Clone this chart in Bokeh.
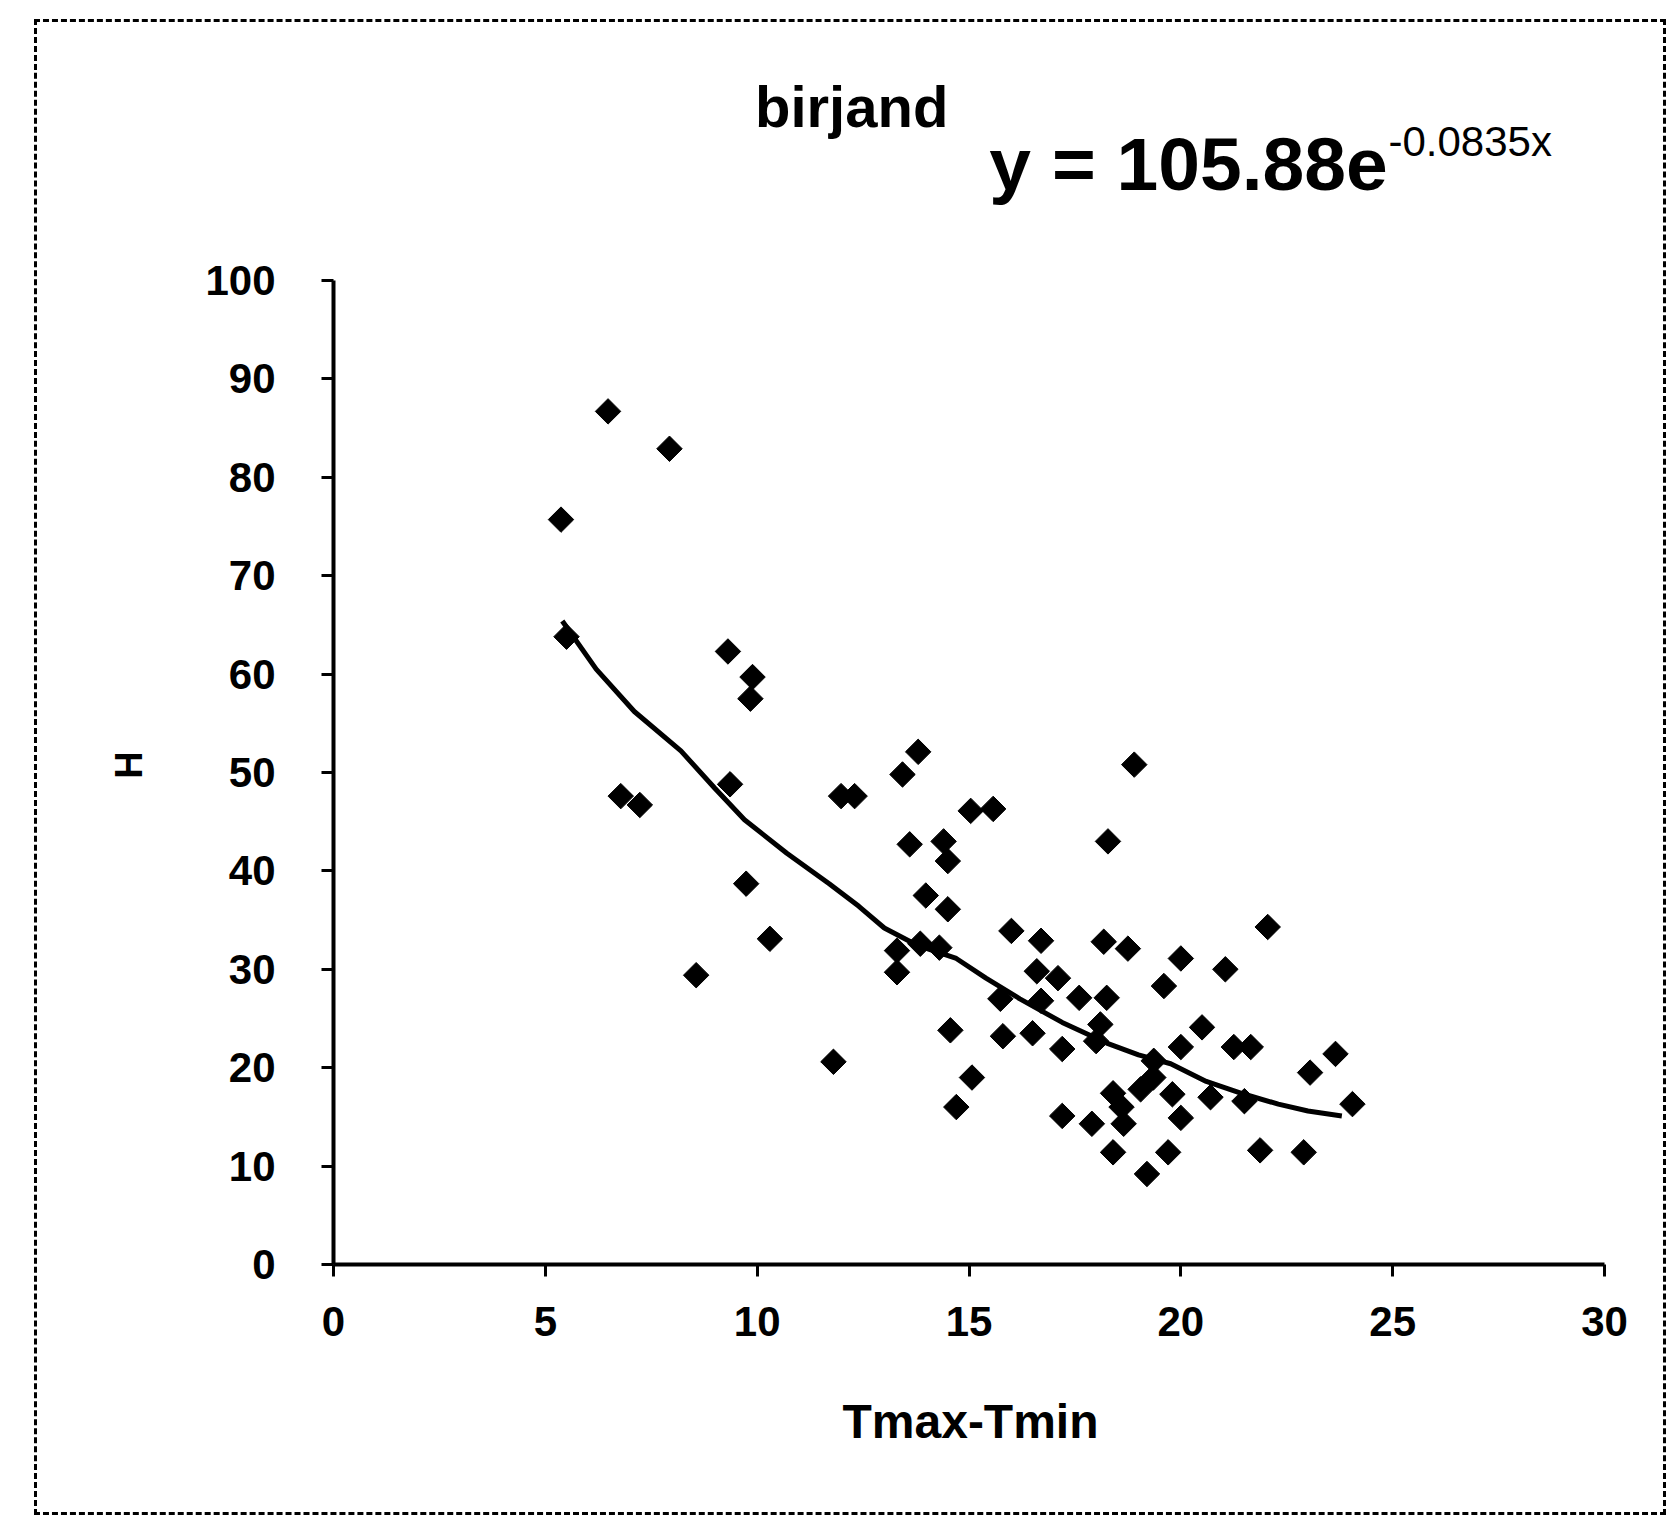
from bokeh.plotting import figure
from bokeh.models import Range1d, FixedTicker, Label
from bokeh.embed import file_html
from bokeh.resources import INLINE
import math

# ---- data ----
x_vals = [5.37, 6.48, 7.93, 5.5, 6.78, 7.23, 8.56, 9.31, 9.89, 9.84,
          9.36, 9.74, 10.3, 11.8, 11.98, 12.3, 13.43, 13.8, 13.3, 13.6,
          13.98, 14.4, 14.5, 14.5, 14.56, 14.7, 15.07, 15.04, 15.57, 13.3,
          14.3, 13.85, 15.74, 15.8, 16.0, 16.7, 16.5, 16.6, 17.1, 16.7,
          17.2, 17.2, 17.9, 17.6, 18.25, 18.0, 18.28, 18.18, 18.75, 18.9,
          18.4, 18.6, 18.4, 19.2, 19.7, 19.6, 20.0, 19.35, 19.36, 20.0,
          19.8, 20.0, 20.5, 20.7, 21.05, 21.25, 21.65, 21.5, 22.05, 21.87,
          22.9, 23.05, 23.65, 24.05, 18.65, 19.05, 18.1]
h_vals = [75.7, 86.7, 82.9, 63.8, 47.6, 46.7, 29.4, 62.3, 59.7, 57.5,
          48.8, 38.7, 33.1, 20.6, 47.6, 47.6, 49.8, 52.1, 29.7, 42.7,
          37.5, 43.0, 41.0, 36.1, 23.8, 16.0, 19.0, 46.1, 46.3, 31.9,
          32.2, 32.6, 27.0, 23.2, 33.9, 32.9, 23.5, 29.8, 29.1, 26.8,
          21.9, 15.1, 14.3, 27.1, 27.1, 22.7, 43.0, 32.8, 32.1, 50.8,
          17.4, 16.0, 11.4, 9.2, 11.4, 28.3, 31.1, 19.0, 20.7, 22.1,
          17.3, 14.9, 24.1, 17.0, 30.0, 22.1, 22.1, 16.6, 34.3, 11.6,
          11.4, 19.5, 21.4, 16.3, 14.3, 17.8, 24.4]

# trend line
trend_x = [5.4, 6.2, 7.1, 8.2, 9.0, 9.7, 10.7, 11.7, 12.4, 13.0, 13.8, 14.7,
           15.4, 16.2, 17.2, 18.25, 19.0, 19.76, 20.6, 21.5, 22.3, 23.0, 23.8]
trend_y = [65.4, 60.5, 56.2, 52.2, 48.4, 45.2, 41.8, 38.7, 36.4, 34.2, 32.4, 31.1,
           29.1, 27.0, 24.6, 22.5, 21.3, 20.4, 18.6, 17.3, 16.3, 15.6, 15.1]

x_ticks = [0, 5, 10, 15, 20, 25, 30]
y_ticks = [0, 10, 20, 30, 40, 50, 60, 70, 80, 90, 100]

title_text = "birjand"
eq_main = "y = 105.88e"
eq_exp = "-0.0835x"
x_label = "Tmax-Tmin"
y_label = "H"

FONT = "Liberation Sans"
NBSP = "\u00a0"

# the frame reaches up to the top of the figure (for the title texts);
# the axes themselves are bounded to 0..30 / 0..100
p = figure(width=1626, height=1490, output_backend="svg", toolbar_location=None,
           title=None,
           x_range=Range1d(0, 30.07), y_range=Range1d(0, 126.22),
           min_border_left=296, min_border_right=56,
           min_border_top=0, min_border_bottom=248,
           margin=(22, 0, 0, 37),
           styles={"outline": "3px dashed black"})
p.outline_line_color = None
p.xgrid.visible = False
p.ygrid.visible = False
p.background_fill_color = "white"
p.border_fill_color = "white"

for ax in (p.xaxis[0], p.yaxis[0]):
    ax.axis_line_width = 4
    ax.axis_line_color = "black"
    ax.major_tick_line_width = 3
    ax.major_tick_line_color = "black"
    ax.major_tick_in = 0
    ax.major_tick_out = 12
    ax.minor_tick_line_color = None
    ax.major_label_text_font = FONT
    ax.major_label_text_font_style = "bold"
    ax.major_label_text_font_size = "42px"
    ax.major_label_text_color = "black"
    ax.axis_label_text_font = FONT
    ax.axis_label_text_font_style = "bold"
    ax.axis_label_text_color = "black"

p.xaxis.bounds = (0, 30)
p.yaxis.bounds = (0, 100)
p.xaxis.ticker = FixedTicker(ticks=x_ticks)
p.yaxis.ticker = FixedTicker(ticks=y_ticks)
p.xaxis.major_label_standoff = 30
p.yaxis.major_label_standoff = 46
p.xaxis.axis_label = x_label
# padding keeps the rotated "H" level with the 50 tick, as in the original
p.yaxis.axis_label = y_label + NBSP * 23
p.xaxis.axis_label_text_font_size = "48px"
p.yaxis.axis_label_text_font_size = "38px"
p.xaxis.axis_label_standoff = 56
p.yaxis.axis_label_standoff = 52

p.line(trend_x, trend_y, line_color="black", line_width=5)
p.scatter(x_vals, h_vals, marker="square", angle=math.pi / 4, size=18,
          fill_color="black", line_color="black")

p.add_layout(Label(x=12.23, y=117.7, text=title_text, text_font=FONT,
                   text_font_style="bold", text_font_size="58px",
                   text_align="center", text_baseline="middle", text_color="black"))
p.add_layout(Label(x=15.48, y=111.8, text=eq_main, text_font=FONT,
                   text_font_style="bold", text_font_size="75px",
                   text_align="left", text_baseline="middle", text_color="black"))
p.add_layout(Label(x=24.9, y=114.1, text=eq_exp, text_font=FONT,
                   text_font_size="42px", text_align="left",
                   text_baseline="middle", text_color="black"))

open("out.html", "w").write(file_html(p, INLINE))
